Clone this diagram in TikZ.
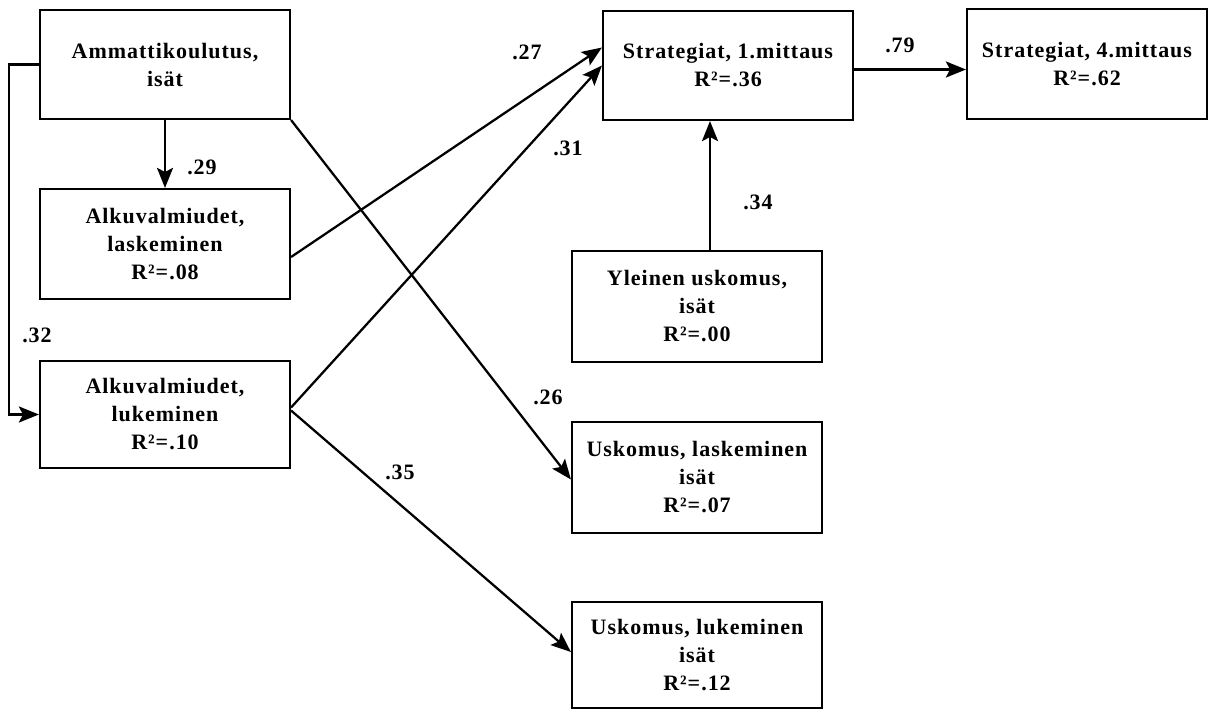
\documentclass[tikz,border=0pt]{standalone}
\usepackage{fontspec}
\setmainfont{Liberation Serif}[LetterSpace=4.5]
\usetikzlibrary{arrows.meta,calc}
\begin{document}
\begin{tikzpicture}[x=0.75pt,y=-0.75pt,
  box/.style={draw,line width=1.6pt,rectangle,inner sep=0pt,align=center,
    minimum width=250*0.75pt,font=\bfseries\fontsize{16.5}{21}\selectfont},
  arr/.style={line width=1.7pt,-{Stealth[length=15pt,width=12pt,inset=3pt]}},
  coef/.style={inner sep=0pt,font=\bfseries\fontsize{16.5}{21}\selectfont}]
\useasboundingbox (0,0) rectangle (1212,710);

% variable boxes
\node[box,minimum height=109*0.75pt] (amm) at (165,64.5) {Ammattikoulutus,\\isät};
\node[box,minimum height=110*0.75pt] (alkl) at (165,244) {Alkuvalmiudet,\\laskeminen\\R²=.08};
\node[box,minimum height=107*0.75pt] (alkr) at (165,414.5) {Alkuvalmiudet,\\lukeminen\\R²=.10};
\node[box,minimum height=109*0.75pt] (str1) at (728,65.5) {Strategiat, 1.mittaus\\R²=.36};
\node[box,minimum height=110*0.75pt,minimum width=240*0.75pt] (str4) at (1087,64) {Strategiat, 4.mittaus\\R²=.62};
\node[box,minimum height=111*0.75pt] (yle) at (697,306.5) {Yleinen uskomus,\\isät\\R²=.00};
\node[box,minimum height=111*0.75pt] (uskl) at (697,477.5) {Uskomus, laskeminen\\isät\\R²=.07};
\node[box,minimum height=106*0.75pt] (uskr) at (697,655) {Uskomus, lukeminen\\isät\\R²=.12};

% paths
\draw[arr] (amm.west) -- ++(-30,0) |- (alkr.west);
\draw[arr] (amm.south) -- (alkl.north);
\draw[arr] (amm.south east) -- ($(uskl.west)+(0,2)$);
\draw[arr] ($(alkl.east)+(0,13)$) -- ($(str1.west)+(0,-18)$);
\draw[arr] ($(alkr.east)+(0,-7)$) -- (str1.west);
\draw[arr] ($(alkr.east)+(0,-4)$) -- ($(uskr.west)+(0,-3)$);
\draw[arr] ($(yle.north)+(13,0)$) -- ($(str1.south)+(-18,0)$);
\draw[arr] ($(str1.east)+(0,4)$) coordinate (s1e) -- (s1e -| str4.west);

% path coefficients
\node[coef] (c29) at (202,167) {.29};
\node[coef] (c32) at (37,335) {.32};
\node[coef] (c27) at (527,52) {.27};
\node[coef] (c31) at (568,148) {.31};
\node[coef] (c79) at (900,45) {.79};
\node[coef] (c34) at (758,202) {.34};
\node[coef] (c26) at (548,397) {.26};
\node[coef] (c35) at (400,472) {.35};
\end{tikzpicture}
\end{document}
